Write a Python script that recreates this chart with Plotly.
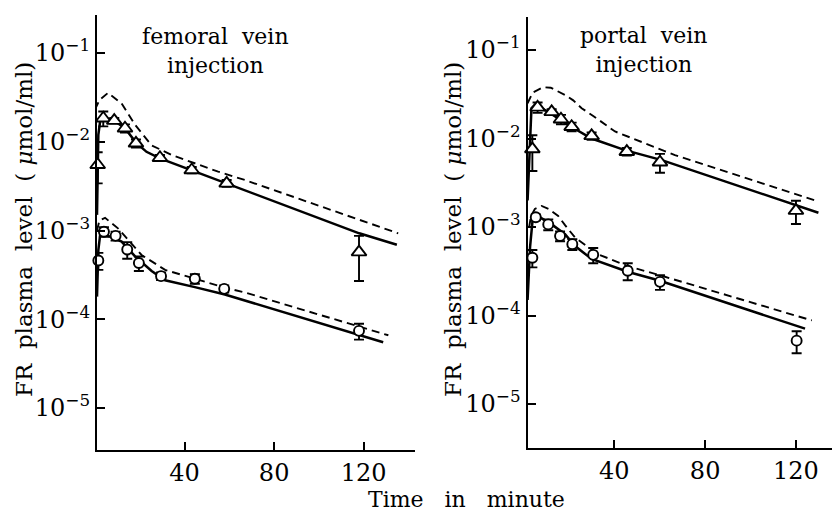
import plotly.graph_objects as go

# ---------------- data: femoral vein injection (left panel) ----------------
fem_tri_t = [1.2, 3.7, 8.6, 13.4, 18.3, 29, 43.2, 58.8, 117.9]
fem_tri_y = [5.5e-3, 1.84e-2, 1.73e-2, 1.42e-2, 9.6e-3, 6.6e-3, 4.8e-3, 3.4e-3, 5.7e-4]
fem_tri_err = [2.1e-3, 3.5e-3, 1.2e-3, 1.5e-3, 1.0e-3, 0.5e-3, 0.4e-3, 0.3e-3, 3.0e-4]

fem_circ_t = [1.5, 4.0, 9.2, 14.4, 19.6, 29.5, 44.6, 57.7, 117.9]
fem_circ_y = [4.6e-4, 9.7e-4, 8.7e-4, 6.1e-4, 4.3e-4, 3.06e-4, 2.86e-4, 2.2e-4, 7.4e-5]
fem_circ_err = [1.0e-4, 1.2e-4, 1.0e-4, 1.3e-4, 0.8e-4, 0.3e-4, 0.35e-4, 0.2e-4, 1.5e-5]

fem_solid_hi_t = [0.9, 1.5, 2.5, 4.0, 8.6, 13.4, 18.3, 23.0, 29, 43, 59, 118, 134.8]
fem_solid_hi_y = [1.5e-3, 1.2e-2, 1.85e-2, 1.86e-2, 1.73e-2, 1.42e-2, 9.8e-3, 7.7e-3, 6.5e-3, 4.8e-3, 3.4e-3, 9.3e-4, 6.9e-4]
fem_dash_hi_t = [0, 2.0, 5.8, 11.9, 17.9, 25.3, 34.2, 55, 67, 135.4]
fem_dash_hi_y = [2.3e-2, 2.95e-2, 3.55e-2, 2.7e-2, 1.55e-2, 9.1e-3, 7.1e-3, 4.6e-3, 3.7e-3, 9.3e-4]

fem_solid_lo_t = [0.9, 1.5, 2.5, 4.5, 11.9, 17.9, 25.3, 31.3, 44.6, 58, 128.7]
fem_solid_lo_y = [1.8e-4, 6.0e-4, 9.8e-4, 9.0e-4, 7.5e-4, 5.1e-4, 3.5e-4, 2.75e-4, 2.3e-4, 1.9e-4, 5.5e-5]
fem_dash_lo_t = [0.9, 2.0, 4.5, 10.4, 14.9, 20.8, 31.3, 40, 58, 67, 131]
fem_dash_lo_y = [1.0e-3, 1.3e-3, 1.39e-3, 1.05e-3, 7.8e-4, 5.3e-4, 3.6e-4, 3.1e-4, 2.27e-4, 2.0e-4, 6.6e-5]

# ---------------- data: portal vein injection (right panel) ----------------
por_tri_t = [3.9, 6.2, 12.4, 16.5, 21.2, 30, 45.5, 60.1, 120]
por_tri_y = [7.6e-3, 2.25e-2, 2.0e-2, 1.65e-2, 1.36e-2, 1.07e-2, 7.1e-3, 5.4e-3, 1.53e-3]
por_tri_err = [3.3e-3, 3.0e-3, 1.5e-3, 2.0e-3, 1.5e-3, 1.0e-3, 0.7e-3, 1.3e-3, 0.45e-3]

por_circ_t = [3.9, 5.4, 10.9, 16.1, 21.5, 30.7, 45.9, 60.1, 120.3]
por_circ_y = [4.5e-4, 1.29e-3, 1.07e-3, 7.9e-4, 6.4e-4, 4.85e-4, 3.2e-4, 2.4e-4, 5.2e-5]
por_circ_err = [1.0e-4, 1.0e-4, 1.5e-4, 1.0e-4, 0.9e-4, 0.95e-4, 0.7e-4, 0.45e-4, 1.45e-5]

por_solid_hi_t = [1.8, 2.9, 3.5, 5.0, 10.9, 19.7, 30, 44.7, 60.9, 129.9]
por_solid_hi_y = [2.0e-3, 1.0e-2, 2.2e-2, 2.4e-2, 2.0e-2, 1.42e-2, 1.0e-2, 7.4e-3, 5.7e-3, 1.45e-3]
por_dash_hi_t = [1.8, 4.0, 8.7, 12.0, 18.3, 21.9, 25.6, 30.7, 40.3, 55, 66.7, 129.9]
por_dash_hi_y = [2.5e-2, 3.3e-2, 3.8e-2, 3.75e-2, 3.1e-2, 2.7e-2, 2.2e-2, 1.8e-2, 1.2e-2, 8.5e-3, 6.5e-3, 1.94e-3]

por_solid_lo_t = [1.8, 2.9, 4.0, 6.5, 12.4, 18.3, 22.7, 30, 46.2, 59.4, 124]
por_solid_lo_y = [1.5e-4, 6.0e-4, 1.2e-3, 1.32e-3, 1.07e-3, 8.3e-4, 6.1e-4, 4.35e-4, 3.1e-4, 2.5e-4, 7.1e-5]
por_dash_lo_t = [2.5, 3.3, 5.0, 8.0, 11.0, 15.3, 18.3, 22.7, 33, 46.2, 62.3, 127]
por_dash_lo_y = [1.0e-3, 1.33e-3, 1.6e-3, 1.73e-3, 1.6e-3, 1.33e-3, 1.05e-3, 7.6e-4, 4.9e-4, 3.6e-4, 2.74e-4, 8.8e-5]

# ---------------- labels ----------------
y_tick_vals = [1e-5, 1e-4, 1e-3, 1e-2, 1e-1]
y_tick_text = ["10<sup>−5</sup>", "10<sup>−4</sup>", "10<sup>−3</sup>", "10<sup>−2</sup>", "10<sup>−1</sup>"]
x_tick_vals = [40, 80, 120]
x_tick_text = ["40", "80", "120"]
panel_titles = ["femoral\u00a0\u00a0vein<br>injection", "portal\u00a0\u00a0vein<br>injection"]
y_title = "FR\u00a0\u00a0plasma\u00a0\u00a0level\u00a0\u00a0(\u00a0<i>μ</i>mol/ml)"
x_title = "Time\u00a0\u00a0\u00a0in\u00a0\u00a0\u00a0minute"

FONT = "DejaVu Serif"
# the page body adds an 8px margin, so the figure is 8px smaller than the window
OFF = 8
W, H = 840 - OFF, 511 - OFF


def px(x):
    return (x - OFF) / W


def py(y):
    return 1 - (y - OFF) / H


fig = go.Figure()


def add_panel(xa, ya, solid_hi, dash_hi, solid_lo, dash_lo, tri, circ):
    for (t, y), dash, w in [(solid_hi, "solid", 2.5), (dash_hi, "8px,5px", 1.9),
                            (solid_lo, "solid", 2.5), (dash_lo, "8px,5px", 1.9)]:
        fig.add_trace(go.Scatter(x=t, y=y, mode="lines", xaxis=xa, yaxis=ya,
                                 line=dict(color="black", width=w, dash=dash),
                                 showlegend=False, hoverinfo="skip"))
    for (t, y, e), sym, sz in [(tri, "triangle-up", 13), (circ, "circle", 10)]:
        fig.add_trace(go.Scatter(x=t, y=y, mode="markers", xaxis=xa, yaxis=ya,
                                 marker=dict(symbol=sym, size=sz, color="white",
                                             line=dict(color="black", width=1.9)),
                                 error_y=dict(type="data", array=e, color="black",
                                              thickness=1.9, width=5),
                                 cliponaxis=False, showlegend=False))


add_panel("x", "y", (fem_solid_hi_t, fem_solid_hi_y), (fem_dash_hi_t, fem_dash_hi_y),
          (fem_solid_lo_t, fem_solid_lo_y), (fem_dash_lo_t, fem_dash_lo_y),
          (fem_tri_t, fem_tri_y, fem_tri_err), (fem_circ_t, fem_circ_y, fem_circ_err))
add_panel("x2", "y2", (por_solid_hi_t, por_solid_hi_y), (por_dash_hi_t, por_dash_hi_y),
          (por_solid_lo_t, por_solid_lo_y), (por_dash_lo_t, por_dash_lo_y),
          (por_tri_t, por_tri_y, por_tri_err), (por_circ_t, por_circ_y, por_circ_err))

axis_common = dict(showline=True, linecolor="black", linewidth=2.2, ticks="inside",
                   ticklen=8, tickwidth=2, tickcolor="black", showgrid=False,
                   zeroline=False, automargin=False,
                   tickfont=dict(family=FONT, size=24, color="black"))

xl = dict(axis_common, tickvals=x_tick_vals, ticktext=x_tick_text)
yl = dict(axis_common, type="log", tickvals=y_tick_vals, ticktext=y_tick_text)

fig.update_layout(
    width=W, height=H, margin=dict(l=0, r=0, t=0, b=0, pad=0, autoexpand=False),
    paper_bgcolor="white", plot_bgcolor="white",
    xaxis=dict(xl, domain=[px(97), px(415)], range=[0.9, 142.9], anchor="y"),
    yaxis=dict(yl, domain=[py(450), py(15)], range=[-5.473, -0.572], anchor="x"),
    xaxis2=dict(xl, domain=[px(527.5), 1.0], range=[1.76, 139.4], anchor="y2"),
    yaxis2=dict(yl, domain=[py(448), py(17)], range=[-5.497, -0.627], anchor="x2"),
)

annots = [
    dict(x=px(215), y=py(51), text=panel_titles[0], font_size=22),
    dict(x=px(643), y=py(50), text=panel_titles[1], font_size=22),
    dict(x=px(24), y=py(230), text=y_title, textangle=-90, font_size=23),
    dict(x=px(453), y=py(230), text=y_title, textangle=-90, font_size=23),
    dict(x=px(466), y=py(499), text=x_title, font_size=22),
]
for a in annots:
    fs = a.pop("font_size")
    fig.add_annotation(xref="paper", yref="paper", showarrow=False,
                       xanchor="center", yanchor="middle",
                       font=dict(family=FONT, size=fs, color="black"), **a)

fig.write_html("out.html")
